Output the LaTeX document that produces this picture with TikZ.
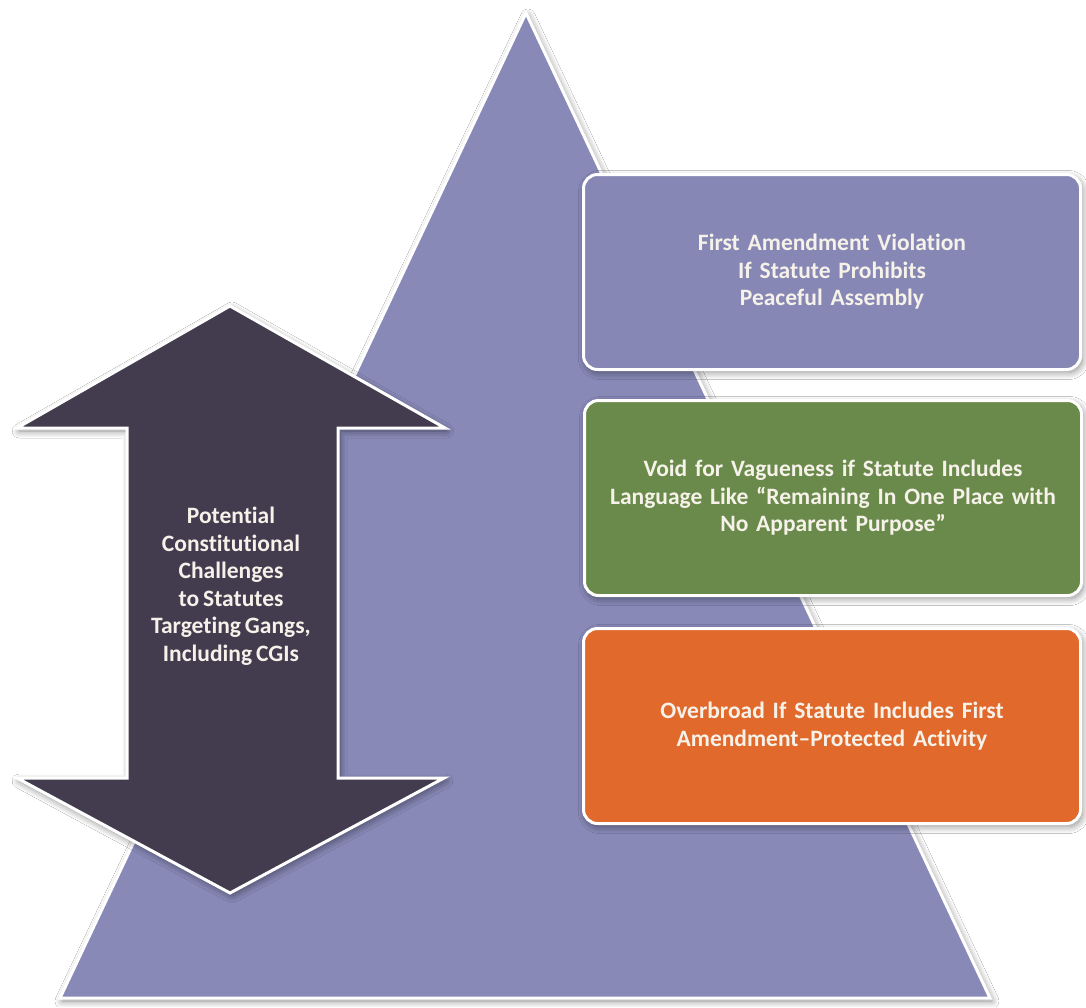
\documentclass[tikz,border=0pt]{standalone}
\usepackage{fontspec}
\setmainfont{Carlito}[WordSpace=0.75, Ligatures=NoCommon]
\usetikzlibrary{shadows.blur}
\definecolor{trifill}{HTML}{8889B7}
\definecolor{boxblue}{HTML}{8687B4}
\definecolor{boxgreen}{HTML}{6A8A4B}
\definecolor{boxorange}{HTML}{E0692B}
\definecolor{arrowfill}{HTML}{433C4F}
\definecolor{txt}{HTML}{F6F2EA}
\tikzset{
  softshadow/.style={blur shadow={shadow xshift=2pt, shadow yshift=-3pt, shadow blur radius=7pt, shadow opacity=45, shadow blur steps=12}},
  whiteedge/.style={draw=white, line width=3pt, line join=miter},
  infobox/.style={whiteedge, softshadow, rounded corners=14pt, minimum width=497pt, minimum height=195pt,
    text width=480pt, align=center, text=txt, font=\bfseries\fontsize{23.5}{27.5}\selectfont, inner sep=0pt},
  arrowtext/.style={text=txt, align=center, font=\bfseries\fontsize{23.5}{27.5}\selectfont}
}
\begin{document}
\begin{tikzpicture}[x=1pt,y=-1pt]
\useasboundingbox[fill=white] (0,0) rectangle (1086,1007);
% pyramid
\path[whiteedge, softshadow, fill=trifill] (60,998) -- (526,13) -- (990,998) -- cycle;
% double arrow
\path[whiteedge, softshadow, fill=arrowfill]
  (230,306) -- (445,428) -- (338,428) -- (338,778) -- (444,778) -- (230,893)
  -- (17,778) -- (127,778) -- (127,428) -- (17,428) -- cycle;
\node[arrowtext] (challenges) at (231,586) {Potential\\Constitutional\\Challenges\\to Statutes\\Targeting Gangs,\\Including CGIs};
% boxes
\node[infobox, fill=boxblue] (assembly) at (832,272) {First Amendment Violation\\If Statute Prohibits\\Peaceful Assembly};
\node[infobox, fill=boxgreen] (vague) at (833,498) {Void for Vagueness if Statute Includes\\Language Like “Remaining In One Place with\\No Apparent Purpose”};
\node[infobox, fill=boxorange] (overbroad) at (832,726) {Overbroad If Statute Includes First\\Amendment–Protected Activity};
\end{tikzpicture}
\end{document}
